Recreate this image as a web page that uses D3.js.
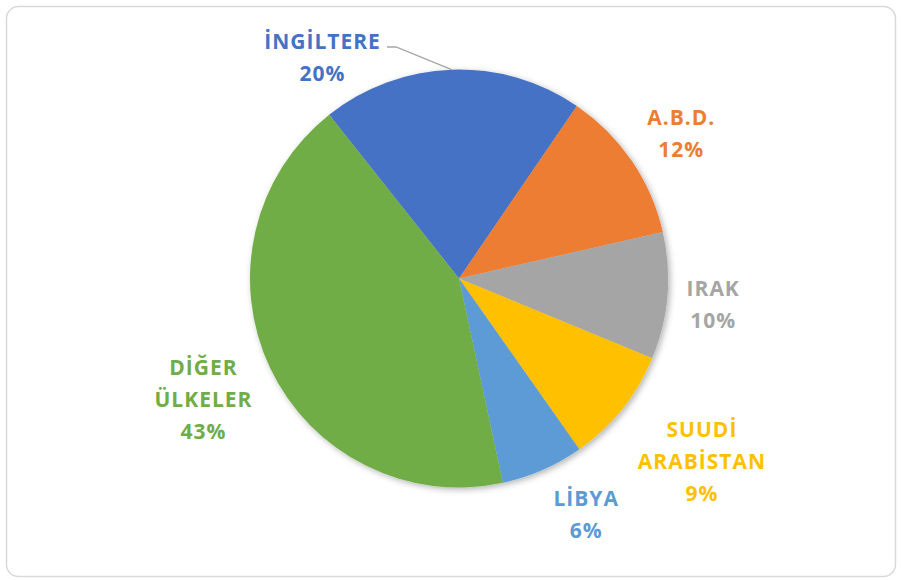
<!DOCTYPE html>
<html><head><meta charset="utf-8">
<script src="https://cdn.jsdelivr.net/npm/d3@7"></script>
<style>html,body{margin:0;padding:0;background:#fff;}svg{display:block;}</style>
</head><body>
<script>
const categories = ["İNGİLTERE", "A.B.D.", "IRAK", "SUUDİ ARABİSTAN", "LİBYA", "DİĞER ÜLKELER"];
const labelLines = [["İNGİLTERE"], ["A.B.D."], ["IRAK"], ["SUUDİ", "ARABİSTAN"], ["LİBYA"], ["DİĞER", "ÜLKELER"]];
const values = [20.2, 11.9, 9.8, 9.0, 6.4, 42.7];
const colors = ["#4472C4", "#ED7D31", "#A5A5A5", "#FFC000", "#5B9BD5", "#70AD47"];

const W = 902, H = 580;
const cx = 459, cy = 278.5, R = 209;
const startDeg = -38.4;
// label anchor in polar form (degrees clockwise from top, radius); first label uses a leader line
const labelAngle = [null, 56.8, 95.8, 127.1, 151.8, 244.8];
const labelRadius = [null, 265, 255, 304, 268, 283];

const svg = d3.select("body").append("svg").attr("width", W).attr("height", H);
const defs = svg.append("defs");
const f = defs.append("filter").attr("id", "sh").attr("x", "-20%").attr("y", "-20%").attr("width", "140%").attr("height", "140%");
f.append("feDropShadow").attr("dx", 2).attr("dy", 2).attr("stdDeviation", 3).attr("flood-color", "#000").attr("flood-opacity", 0.3);

svg.append("rect").attr("x", 6.5).attr("y", 6.5).attr("width", 889).attr("height", 570)
  .attr("rx", 12).attr("fill", "#fff").attr("stroke", "#d9d9d9").attr("stroke-width", 1.5);

const total = d3.sum(values);
const pie = d3.pie().sort(null).value(d => d)
  .startAngle(startDeg * Math.PI / 180).endAngle(startDeg * Math.PI / 180 + 2 * Math.PI);
const arcs = pie(values);
const arc = d3.arc().innerRadius(0).outerRadius(R);

const g = svg.append("g").attr("transform", `translate(${cx},${cy})`);
g.append("g").attr("filter", "url(#sh)").selectAll("path").data(arcs).join("path")
  .attr("d", arc).attr("fill", (d, i) => colors[i]);

const font = "'Open Sans', Carlito, Calibri, sans-serif";
const lineH = 32;
arcs.forEach((d, i) => {
  const pct = Math.round(d.data / total * 100) + "%";
  const lines = labelLines[i].concat([pct]);
  let lx, ly;
  if (i === 0) {
    lx = 322 - cx; ly = 57.5 - cy;
  } else {
    const a = labelAngle[i] * Math.PI / 180;
    lx = Math.sin(a) * labelRadius[i];
    ly = -Math.cos(a) * labelRadius[i];
  }
  const t = g.append("text").attr("text-anchor", "middle")
    .attr("font-family", font).attr("font-weight", "bold").attr("font-size", 21)
    .attr("letter-spacing", 1)
    .attr("fill", colors[i]);
  lines.forEach((s, k) => {
    t.append("tspan").attr("x", lx + 0.5).attr("y", ly + (k - (lines.length - 1) / 2) * lineH)
      .attr("dy", "0.36em").text(s);
  });
});

// leader line for first slice
{
  const pt = [Math.sin(-0.035) * R, -Math.cos(-0.035) * R];
  g.append("path").attr("fill", "none").attr("stroke", "#A6A6A6").attr("stroke-width", 1.3)
    .attr("d", d3.line()([[387 - cx, 47 - cy], [396 - cx, 47 - cy], pt]));
}
</script>
</body></html>
